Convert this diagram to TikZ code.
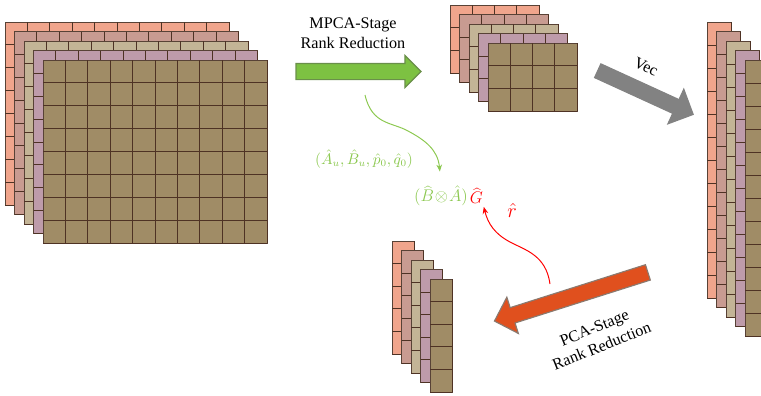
\documentclass[tikz,border=0pt]{standalone}
\usepackage{fontspec}
\setmainfont{Liberation Serif}
\usetikzlibrary{shapes.arrows,positioning,arrows.meta}
\definecolor{sliceA}{HTML}{F0A58C}
\definecolor{sliceB}{HTML}{C89B91}
\definecolor{sliceC}{HTML}{C3B496}
\definecolor{sliceD}{HTML}{BE9BAA}
\definecolor{sliceE}{HTML}{A08C66}
\definecolor{cellline}{HTML}{4E3224}
\definecolor{mpcagreen}{HTML}{7DC142}
\definecolor{mpcaedge}{HTML}{6A8F4A}
\definecolor{vecgray}{HTML}{828282}
\definecolor{pcared}{HTML}{E0501E}
\definecolor{pcaedge}{HTML}{8A7A70}
\definecolor{mathgreen}{HTML}{8CC850}
\tikzset{
  slice/.style={draw=cellline!80!gray, line width=0.5pt},
  cell/.style={draw=cellline, line width=0.6pt},
  blockarrow/.style={single arrow, inner xsep=0pt, single arrow head indent=0pt, line width=0.8pt},
  lab/.style={font=\fontsize{11.5}{14}\selectfont, inner sep=1pt},
  gcurve/.style={draw=mathgreen, line width=0.7pt, -{Stealth[length=5pt,width=4pt]}},
  rcurve/.style={draw=red, line width=0.7pt, -{Stealth[length=5pt,width=4pt]}}
}
% x, y of the back slice, width, height, columns, rows
\newcommand\slicestack[6]{%
  \foreach \l/\col in {0/sliceA,1/sliceB,2/sliceC,3/sliceD,4/sliceE} {
    \pgfmathsetmacro\xo{#1+9.5*\l}
    \pgfmathsetmacro\yo{#2+9.5*\l}
    \draw[slice, fill=\col] (\xo,\yo) rectangle ++(#3,#4);
    \foreach \c in {1,...,#5} \draw[cell] (\xo+\c*#3/#5,\yo) -- ++(0,#4);
    \foreach \r in {1,...,#6} \draw[cell] (\xo,\yo+\r*#4/#6) -- ++(#3,0);
  }
}
\begin{document}
\begin{tikzpicture}[x=0.025cm, y=-0.025cm]
\pgfmathsetlengthmacro\unit{0.025cm}
\useasboundingbox (0,0) rectangle (761,395);
\clip (0,0) rectangle (761,395);
% the four stacks of slices
\slicestack{5}{22}{224}{183}{10}{8}
\slicestack{450}{5}{89}{68}{4}{3}
\slicestack{707}{22}{24}{276}{1}{12}
\slicestack{392}{241}{22}{113}{1}{5}
% block arrows
\node[blockarrow, fill=mpcagreen, draw=mpcaedge, minimum height=125*\unit, inner ysep=7.5*\unit, single arrow head extend=8*\unit] (mpca) at (354.5,71.5) {};
\node[blockarrow, fill=vecgray, draw=vecgray, rotate=-24.6, minimum height=105*\unit, inner ysep=7*\unit, single arrow head extend=11.5*\unit] (vec) at (642,91) {};
\node[blockarrow, fill=pcared, draw=pcaedge, rotate=197.6, minimum height=161*\unit, inner ysep=7.5*\unit, single arrow head extend=11*\unit] (pca) at (575,295.5) {};
% texts
\node[lab, align=center] (mpcatxt) at (353,33) {MPCA-Stage\\Rank Reduction};
\node[lab, rotate=-25] (vectxt) at (646,67) {Vec};
\node[lab, align=center, rotate=22] (pcatxt) at (598,337) {PCA-Stage\\Rank Reduction};
\node[text=mathgreen, font=\fontsize{10.5}{12}\selectfont, inner sep=0pt] (params) at (364,159) {$(\hat{A}_u,\hat{B}_u,\hat{p}_0,\hat{q}_0)$};
\node[text=mathgreen, font=\fontsize{13}{15}\selectfont, inner sep=0pt] (kron) at (441,196) {$(\widehat{B}\!\otimes\!\hat{A})$};
\node[text=red, font=\fontsize{13}{15}\selectfont, inner sep=0pt, right=1pt of kron] (ghat) {$\widehat{G}$};
\node[text=red, font=\fontsize{14}{16}\selectfont, inner sep=0pt] (rhat) at (512,210) {$\hat{r}$};
% curved connectors
\coordinate (gfrom) at (365,95);
\coordinate (rfrom) at (550,284);
\draw[gcurve, shorten >=10pt] (gfrom) .. controls (372,125) and (392,122) .. (408,131) .. controls (425,140) and (438,150) .. (kron.north);
\draw[rcurve, shorten >=2pt] (rfrom) .. controls (546,255) and (525,250) .. (510,242) .. controls (495,234) and (488,224) .. (ghat.south east);
\end{tikzpicture}
\end{document}
